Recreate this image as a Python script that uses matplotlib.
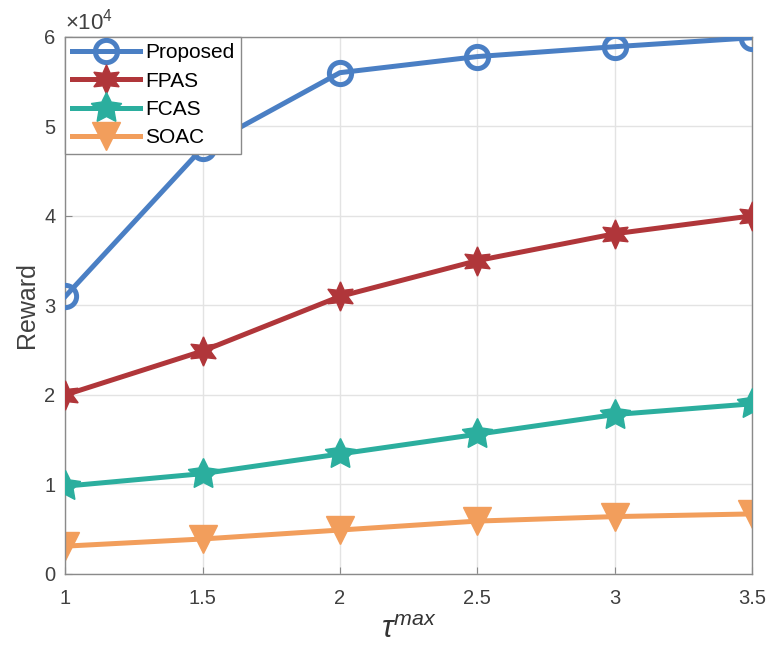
import numpy as np
import matplotlib.pyplot as plt

# data
tau_max = [1, 1.5, 2, 2.5, 3, 3.5]
proposed = [31000, 47600, 56000, 57800, 58900, 59900]
fpas = [20000, 24900, 31000, 35000, 38000, 40000]
fcas = [9800, 11200, 13400, 15600, 17800, 19000]
soac = [3100, 3900, 4900, 5900, 6400, 6700]

plt.rcParams['font.family'] = ['Liberation Sans', 'DejaVu Sans']
plt.rcParams['mathtext.fontset'] = 'custom'
plt.rcParams['mathtext.it'] = 'Liberation Sans:italic'
plt.rcParams['mathtext.rm'] = 'Liberation Sans'

fig = plt.figure(figsize=(7.68, 6.47), dpi=100)
ax = fig.add_axes([0.085, 0.113, 0.894, 0.830])

scale = 1e4
lw = 3.6
ax.plot(tau_max, np.array(proposed) / scale, color='#4A7FC4', lw=lw, marker='o',
        ms=16, mfc='none', mew=3.6, label='Proposed', zorder=5)
ax.plot(tau_max, np.array(fpas) / scale, color='#B0363A', lw=lw, marker=(6, 1, 0),
        ms=21, label='FPAS', zorder=4)
ax.plot(tau_max, np.array(fcas) / scale, color='#2BAE9E', lw=lw, marker=(5, 1, 0),
        ms=23, label='FCAS', zorder=3)
ax.plot(tau_max, np.array(soac) / scale, color='#F29E5C', lw=lw, marker='v',
        ms=20, label='SOAC', zorder=2)

ax.set_xlim(1, 3.5)
ax.set_ylim(0, 6)
ax.set_xticks([1, 1.5, 2, 2.5, 3, 3.5])
ax.set_xticklabels(['1', '1.5', '2', '2.5', '3', '3.5'])
ax.set_yticks([0, 1, 2, 3, 4, 5, 6])
ax.grid(True, color='#E3E3E3', lw=1)
ax.set_axisbelow(True)
for s in ax.spines.values():
    s.set_color('#8A8A8A')
    s.set_linewidth(1)
ax.tick_params(direction='in', length=5, colors='#8A8A8A', labelcolor='#404040',
               labelsize=14.5)
ax.tick_params(axis='x', pad=11)
ax.tick_params(axis='y', pad=7)

ax.text(0.0, 1.004, r'$\times$10$^{4}$', transform=ax.transAxes, fontsize=16,
        color='#404040', ha='left', va='bottom')

ax.set_ylabel('Reward', fontsize=18, color='#404040', labelpad=4)
ax.set_xlabel(r'$\tau^{max}$', fontsize=22, color='#333333', labelpad=5)

leg = ax.legend(loc='upper left', fontsize=15, frameon=True, fancybox=False,
                edgecolor='#8A8A8A', borderpad=0.3, handlelength=3.3,
                handletextpad=0.25, labelspacing=0.45, borderaxespad=0.0,
                framealpha=1)
leg.get_frame().set_linewidth(1)

fig.savefig('out.png', dpi=100)
